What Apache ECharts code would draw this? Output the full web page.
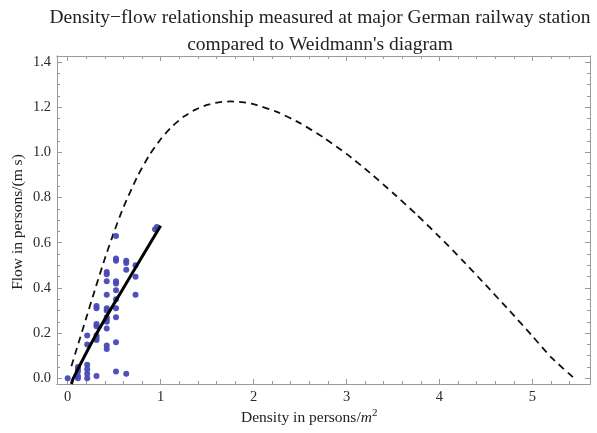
<!DOCTYPE html>
<html><head><meta charset="utf-8">
<script src="https://cdn.jsdelivr.net/npm/echarts@6/dist/echarts.min.js"></script>
<style>html,body{margin:0;padding:0;background:#fff}#c{width:597px;height:433px}</style>
</head><body><div id="c"></div>
<script>
// measured data (density persons/m^2, flow persons/(m s))
const measured = [
 [0.0,0.0],
 [0.11,0.05],[0.11,0.04],[0.11,0.03],[0.11,0.0],[0.11,0.01],
 [0.21,0.06],[0.21,0.04],[0.21,0.02],[0.21,0.0],[0.21,0.19],[0.21,0.15],
 [0.31,0.32],[0.31,0.31],[0.31,0.24],[0.31,0.23],[0.31,0.19],[0.31,0.18],[0.31,0.17],[0.31,0.01],
 [0.42,0.47],[0.42,0.46],[0.42,0.43],[0.42,0.37],[0.42,0.31],[0.42,0.30],[0.42,0.27],[0.42,0.26],[0.42,0.25],[0.42,0.22],[0.42,0.145],[0.42,0.13],
 [0.52,0.63],[0.52,0.53],[0.52,0.52],[0.52,0.43],[0.52,0.42],[0.52,0.39],[0.52,0.35],[0.52,0.31],[0.52,0.27],[0.52,0.16],[0.52,0.03],
 [0.63,0.52],[0.63,0.51],[0.63,0.48],[0.63,0.02],
 [0.73,0.50],[0.73,0.45],[0.73,0.37],
 [0.94,0.66],[0.96,0.67]
];
// fitted line
const fitLine = [[0.04,-0.025],[0.06,0.0],[0.3,0.19],[0.6,0.4],[1.0,0.675]];
// Weidmann's diagram
const weidDensity = [0.04,0.1,0.2,0.3,0.4,0.5,0.6,0.75,0.875,1.0,1.125,1.25,1.375,1.5,1.625,1.75,1.875,2.0,2.25,2.5,2.75,3.0,3.25,3.5,3.75,4.0,4.25,4.5,4.75,5.0,5.2,5.45];
const weidFlow    = [0.054,0.134,0.268,0.401,0.530,0.649,0.757,0.893,0.985,1.058,1.115,1.158,1.189,1.210,1.221,1.225,1.222,1.213,1.179,1.129,1.066,0.993,0.910,0.820,0.726,0.626,0.521,0.412,0.301,0.187,0.094,0.0];
// axes
const xMajor = [0,1,2,3,4,5];
const xMinor = [0.2,0.4,0.6,0.8,1.2,1.4,1.6,1.8,2.2,2.4,2.6,2.8,3.2,3.4,3.6,3.8,4.2,4.4,4.6,4.8,5.2,5.4];
const yMajor = [0,0.2,0.4,0.6,0.8,1.0,1.2,1.4];
const yMinor = [0.05,0.1,0.15,0.25,0.3,0.35,0.45,0.5,0.55,0.65,0.7,0.75,0.85,0.9,0.95,1.05,1.1,1.15,1.25,1.3,1.35];
const X_MIN=-0.115, X_MAX=5.62, Y_MIN=-0.025, Y_MAX=1.426;

const frame = '#9a9a9a';
const serif = '"Liberation Serif","DejaVu Serif",serif';
function xa(pos, vals, len, labels){
  return {type:'value', position:pos, min:X_MIN, max:X_MAX,
    axisLine:{show:true, onZero:false, lineStyle:{color:frame, width:1}},
    axisTick:{show:true, inside:true, length:len, customValues:vals, lineStyle:{color:frame}},
    axisLabel:{show:labels, customValues:vals, color:'#2a2a2a', fontFamily:serif, fontSize:14.5, margin:6},
    splitLine:{show:false}};
}
function ya(pos, vals, len, labels){
  return {type:'value', position:pos, min:Y_MIN, max:Y_MAX,
    axisLine:{show:true, onZero:false, lineStyle:{color:frame, width:1}},
    axisTick:{show:true, inside:true, length:len, customValues:vals, lineStyle:{color:frame}},
    axisLabel:{show:labels, customValues:vals, color:'#2a2a2a', fontFamily:serif, fontSize:14.5, margin:6,
      formatter:v=>v.toFixed(1)},
    splitLine:{show:false}};
}
const chart = echarts.init(document.getElementById('c'));
chart.setOption({
  animation:false,
  backgroundColor:'#fff',
  title:{text:"Density\u2212flow relationship measured at major German railway station\ncompared to Weidmann's diagram",
    left:315, textAlign:'center', top:-1,
    textStyle:{fontFamily:serif, fontSize:19.5, fontWeight:'normal', color:'#222', lineHeight:27}},
  grid:{left:57, right:7, top:56, bottom:49},
  xAxis:[xa('bottom',xMajor,5,true), xa('bottom',xMinor,3,false), xa('top',xMajor,5,false), xa('top',xMinor,3,false)],
  yAxis:[ya('left',yMajor,5,true), ya('left',yMinor,3,false), ya('right',yMajor,5,false), ya('right',yMinor,3,false)],
  graphic:[
    {type:'text', left:323-82, top:408, style:{text:'Density in persons/{i|m}{s|2}', fontFamily:serif, fontSize:15.5, fill:'#222',
      rich:{i:{fontStyle:'italic', fontFamily:serif, fontSize:15.5, fill:'#222'}, s:{fontFamily:serif, fontSize:11, fill:'#222', verticalAlign:'top', padding:[0,0,8,0]}}}},
    {type:'text', x:18, y:222, rotation:Math.PI/2, style:{text:'Flow in persons/(m s)', fontFamily:serif, fontSize:15.5, fill:'#222', align:'center', verticalAlign:'middle'}}
  ],
  series:[
    {type:'line', data:weidDensity.map((d,i)=>[d,weidFlow[i]]), smooth:0.2, showSymbol:false,
      lineStyle:{color:'#111', width:1.8, type:[7,5]}, z:2, silent:true},
    {type:'scatter', data:measured, symbolSize:6, itemStyle:{color:'#4848b8', opacity:0.95}, z:3},
    {type:'line', data:fitLine, smooth:0.3, showSymbol:false, lineStyle:{color:'#000', width:3}, z:4, clip:true}
  ]
});
</script></body></html>
